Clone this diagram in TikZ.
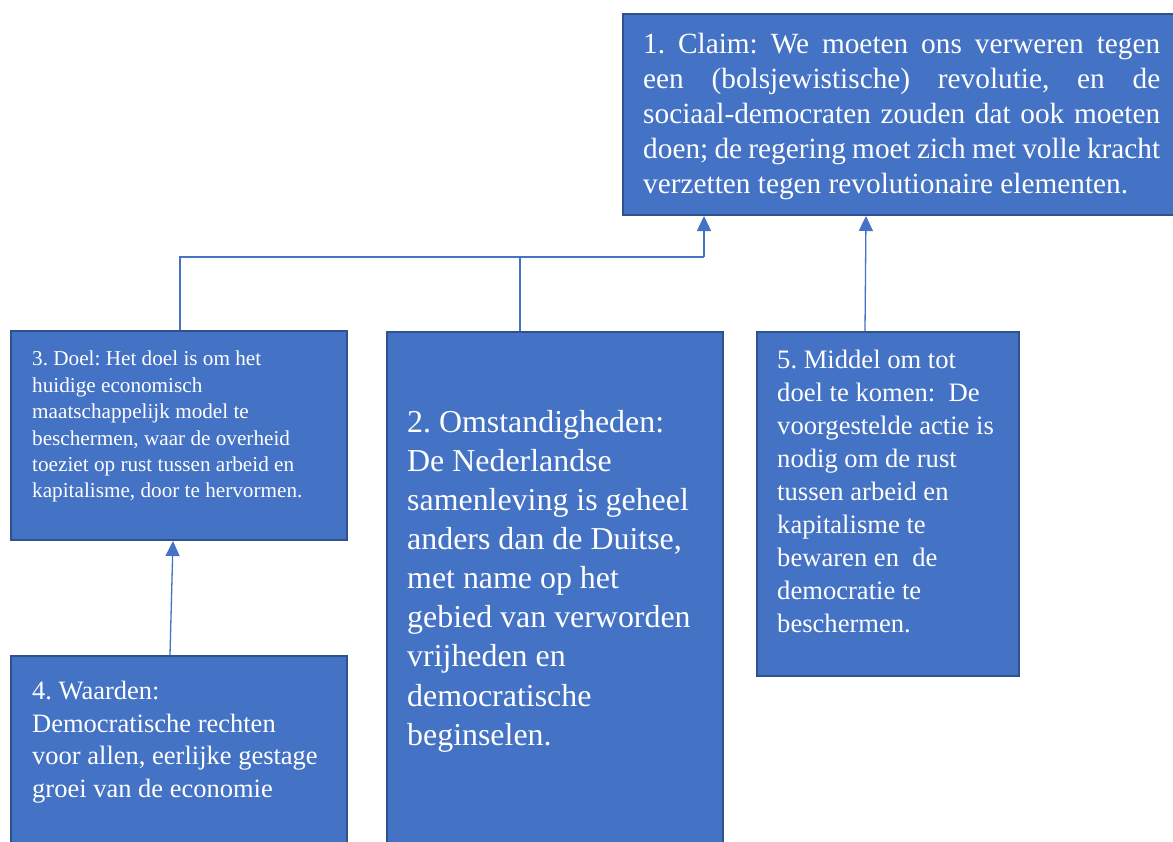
\documentclass[tikz,border=0pt]{standalone}
\usepackage{fontspec}
\setmainfont{Liberation Serif}
\usetikzlibrary{arrows.meta}
\definecolor{boxfill}{HTML}{4472C4}
\definecolor{boxline}{HTML}{2F528F}
\tikzset{
  box/.style={draw=boxline, line width=2pt, fill=boxfill, rectangle, inner sep=0pt, anchor=north west},
  txt/.style={text=white, anchor=north west, inner sep=0pt, align=left},
  conn/.style={draw=boxfill, line width=1.3pt},
  arr/.style={conn, -{Triangle[width=14pt,length=15pt]}},
}
\begin{document}
\frenchspacing
\begin{tikzpicture}[x=1pt,y=-1pt]
\useasboundingbox (0,0) rectangle (1173,841);
\fill[white] (0,0) rectangle (1173,841);
% boxes
\node[box, minimum width=556pt, minimum height=201pt] (b1) at (622,13) {};
\node[box, minimum width=336pt, minimum height=209pt] (b3) at (10,330) {};
\node[box, minimum width=336pt, minimum height=200pt] (b4) at (10,655) {};
\node[box, minimum width=336pt, minimum height=520pt] (b2) at (386,331) {};
\node[box, minimum width=262pt, minimum height=344pt] (b5) at (756,331) {};
% texts
\node[txt, text width=517pt, align=justify, font=\fontsize{29.3}{35}\selectfont] (t1) at (643,33)
 {1. Claim: We moeten ons verweren tegen\linebreak een (bolsjewistische) revolutie, en de\linebreak sociaal-democraten zouden dat ook moeten\linebreak doen; de regering moet zich met volle kracht\linebreak verzetten tegen revolutionaire elementen.};
\node[txt, font=\fontsize{21.2}{26.4}\selectfont] (t3) at (32,351)
 {3. Doel: Het doel is om het\\huidige economisch\\maatschappelijk model te\\beschermen, waar de overheid\\toeziet op rust tussen arbeid en\\kapitalisme, door te hervormen.};
\node[txt, font=\fontsize{26.5}{32.7}\selectfont] (t4) at (32,681)
 {4. Waarden:\\Democratische rechten\\voor allen, eerlijke gestage\\groei van de economie};
\node[txt, font=\fontsize{31.9}{39.1}\selectfont] (t2) at (407,410)
 {2. Omstandigheden:\\De Nederlandse\\samenleving is geheel\\anders dan de Duitse,\\met name op het\\gebied van verworden\\vrijheden en\\democratische\\beginselen.};
\node[txt, font=\fontsize{26.6}{33}\selectfont] (t5) at (777,350)
 {5. Middel om tot\\doel te komen:\ \ De\\voorgestelde actie is\\nodig om de rust\\tussen arbeid en\\kapitalisme te\\bewaren en\ \ de\\democratie te\\beschermen.};
% connectors
\coordinate (j) at (704,257);
\draw[conn] (b3.north -| 180,0) |- (j);
\draw[conn] (b2.north -| 520,0) -- (520,257);
\draw[arr] (j) -- (b1.south -| 704,0);
\draw[arr] (b5.north -| 865,0) -- (b1.south -| 866,0);
\draw[arr] (b4.north -| 170,0) -- (b3.south -| 173,0);
\end{tikzpicture}
\end{document}
